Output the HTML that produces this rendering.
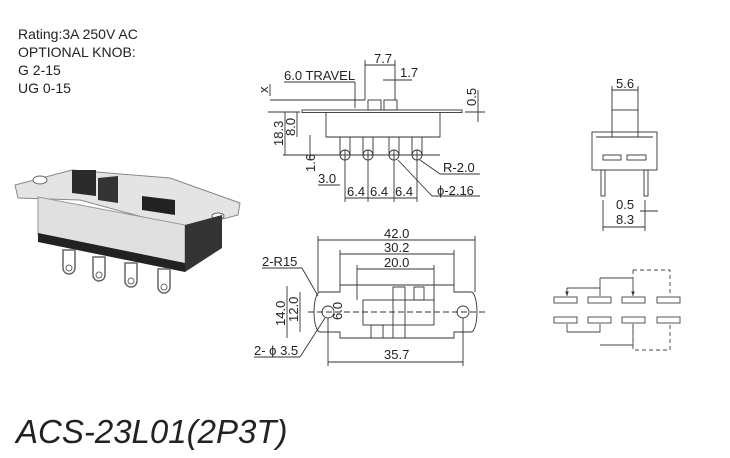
<!DOCTYPE html>
<html><head><meta charset="utf-8"><style>
html,body{margin:0;padding:0;background:#fff;width:730px;height:458px;overflow:hidden}
svg{display:block}
text{font-family:"Liberation Sans",Arial,sans-serif;fill:#222}
</style></head><body>
<svg width="730" height="458" viewBox="0 0 730 458" xmlns="http://www.w3.org/2000/svg">
<defs><marker id="a" markerWidth="6" markerHeight="6" refX="5" refY="3" orient="auto"><path d="M0,1 L5,3 L0,5z" fill="#333"/></marker></defs>
<g font-size="14">
<text x="18" y="39">Rating:3A 250V AC</text>
<text x="18" y="57">OPTIONAL KNOB:</text>
<text x="18" y="75">G 2-15</text>
<text x="18" y="93">UG 0-15</text>
</g>
<text x="16" y="443" font-size="33" font-style="italic" fill="#222">ACS-23L01(2P3T)</text>

<!-- photo -->
<g>
<path d="M15,185 L72,170 L170,178 L240,203 L238,215 L200,225 L190,230 L80,200 L18,198z" fill="#e4e4e4" stroke="#888"/>
<ellipse cx="40" cy="180" rx="7" ry="4" fill="#fff" stroke="#666"/>
<ellipse cx="218" cy="216" rx="6" ry="3" fill="#fff" stroke="#666"/>
<path d="M38,197 L185,225 L185,265 L38,235z" fill="#e0e0e0" stroke="#999"/>
<path d="M38,233 L185,263 L185,272 L38,242z" fill="#222"/>
<path d="M185,225 L222,215 L222,248 L185,272z" fill="#333"/>
<path d="M72,170 L96,170 L96,196 L72,193z" fill="#2a2a2a"/>
<path d="M98,178 L118,176 L118,203 L98,200z" fill="#333"/>
<path d="M142,196 L175,200 L175,215 L142,210z" fill="#222"/>
<g fill="#fff" stroke="#666" stroke-width="1.5">
<path d="M63,250 h12 v18 a6,6 0 0 1 -12,0z"/><path d="M93,257 h12 v18 a6,6 0 0 1 -12,0z"/>
<path d="M125,263 h12 v18 a6,6 0 0 1 -12,0z"/><path d="M158,269 h12 v18 a6,6 0 0 1 -12,0z"/>
</g>
<g fill="#fff" stroke="#666"><circle cx="69" cy="268" r="3"/><circle cx="99" cy="275" r="3"/><circle cx="131" cy="281" r="3"/><circle cx="164" cy="287" r="3"/></g>
</g>

<!-- side view -->
<g fill="none" stroke="#333" stroke-width="0.9">
<rect x="302" y="110" width="160" height="2.5"/>
<path d="M326,112 V137 H440 V112"/>
<rect x="368" y="100" width="13" height="10"/><rect x="384" y="100" width="13" height="10"/>
<g><rect x="340" y="137" width="10" height="18"/><rect x="363" y="137" width="10" height="18"/><rect x="389" y="137" width="10" height="18"/><rect x="412" y="137" width="10" height="18"/>
<circle cx="345" cy="155" r="5"/><circle cx="368" cy="155" r="5"/><circle cx="394" cy="155" r="5"/><circle cx="417" cy="155" r="5"/></g>
<line x1="283" y1="155" x2="440" y2="155"/>
<line x1="270" y1="100" x2="365" y2="100"/>
<line x1="268" y1="112" x2="300" y2="112"/>
<line x1="365" y1="60" x2="365" y2="100"/><line x1="395" y1="60" x2="395" y2="100"/>
<line x1="365" y1="65" x2="395" y2="65"/>
<line x1="383" y1="80" x2="412" y2="80"/>
<line x1="284" y1="82" x2="355" y2="82"/>
<line x1="355" y1="82" x2="355" y2="108"/>
<line x1="270" y1="84" x2="270" y2="96"/>
<line x1="285" y1="112" x2="285" y2="155"/><line x1="297" y1="112" x2="297" y2="137"/>
<line x1="310" y1="135" x2="310" y2="160"/>
<line x1="345" y1="150" x2="345" y2="202"/><line x1="368" y1="150" x2="368" y2="202"/><line x1="394" y1="150" x2="394" y2="202"/><line x1="417" y1="150" x2="417" y2="202"/>
<line x1="345" y1="198" x2="417" y2="198"/>
<line x1="318" y1="185" x2="340" y2="185"/>
<line x1="420" y1="160" x2="440" y2="174"/><line x1="440" y1="174" x2="480" y2="174"/>
<line x1="398" y1="160" x2="432" y2="196"/><line x1="432" y1="196" x2="480" y2="196"/>
<line x1="465" y1="112" x2="485" y2="112"/><line x1="478" y1="90" x2="478" y2="122"/>
</g>
<g font-size="13">
<text x="374" y="63">7.7</text><text x="400" y="77">1.7</text>
<text x="284" y="80">6.0 TRAVEL</text>
<text x="443" y="172">R-2.0</text><text x="437" y="195">ϕ-2.16</text>
<text x="347" y="196">6.4</text><text x="370" y="196">6.4</text><text x="395" y="196">6.4</text>
<text x="318" y="183">3.0</text>
<text transform="translate(268,93) rotate(-90)">x</text>
<text transform="translate(283,146) rotate(-90)">18.3</text>
<text transform="translate(295,136) rotate(-90)">8.0</text>
<text transform="translate(315,172) rotate(-90)">1.6</text>
<text transform="translate(476,106) rotate(-90)">0.5</text>
</g>

<!-- bottom view -->
<g fill="none" stroke="#333" stroke-width="0.9">
<path d="M320,292 H340 V285 H454 V292 H471 A6,20 0 0 1 471,332 H454 V338 H340 V332 H320 A6,20 0 0 1 320,292z"/>
<circle cx="328" cy="312" r="6"/><circle cx="463" cy="312" r="6"/>
<line x1="308" y1="312" x2="485" y2="312" stroke-dasharray="6,3"/>
<rect x="363" y="300" width="71" height="25"/>
<rect x="393" y="287" width="12" height="51"/><rect x="414" y="287" width="10" height="13"/>
<rect x="371" y="325" width="12" height="13"/>
<line x1="318" y1="240" x2="475" y2="240"/><line x1="318" y1="236" x2="318" y2="292"/><line x1="475" y1="236" x2="475" y2="292"/>
<line x1="340" y1="254" x2="454" y2="254"/><line x1="340" y1="250" x2="340" y2="285"/><line x1="454" y1="250" x2="454" y2="285"/>
<line x1="357" y1="269" x2="434" y2="269"/><line x1="357" y1="265" x2="357" y2="300"/><line x1="434" y1="265" x2="434" y2="300"/>
<line x1="328" y1="362" x2="463" y2="362"/><line x1="328" y1="318" x2="328" y2="366"/><line x1="463" y1="318" x2="463" y2="366"/>
<line x1="287" y1="286" x2="287" y2="338"/><line x1="300" y1="292" x2="300" y2="332"/>
<line x1="262" y1="268" x2="302" y2="268"/><line x1="302" y1="268" x2="318" y2="296"/>
<line x1="254" y1="357" x2="300" y2="357"/><line x1="300" y1="357" x2="325" y2="318"/>
</g>
<g font-size="13">
<text x="384" y="238">42.0</text><text x="384" y="252">30.2</text><text x="384" y="267">20.0</text>
<text x="384" y="359">35.7</text>
<text x="262" y="266">2-R15</text><text x="254" y="355">2- ϕ 3.5</text>
<text transform="translate(285,326) rotate(-90)">14.0</text>
<text transform="translate(298,322) rotate(-90)">12.0</text>
<text transform="translate(342,320) rotate(-90)">6.0</text>
</g>

<!-- front view -->
<g fill="none" stroke="#333" stroke-width="0.9">
<rect x="612" y="110" width="26" height="27"/>
<rect x="592" y="132" width="65" height="38"/>
<line x1="596" y1="137" x2="653" y2="137"/>
<rect x="603" y="155" width="18" height="5"/><rect x="627" y="155" width="19" height="5"/>
<rect x="601" y="170" width="4" height="26"/><rect x="644" y="170" width="4" height="26"/>
<line x1="612" y1="86" x2="612" y2="110"/><line x1="638" y1="86" x2="638" y2="110"/><line x1="612" y1="90" x2="638" y2="90"/>
<line x1="603" y1="200" x2="603" y2="231"/><line x1="645" y1="200" x2="645" y2="231"/>
<line x1="603" y1="227" x2="645" y2="227"/><line x1="640" y1="211" x2="658" y2="211"/>
</g>
<g font-size="13"><text x="616" y="88">5.6</text><text x="616" y="209">0.5</text><text x="616" y="224">8.3</text></g>

<!-- schematic -->
<g fill="none" stroke="#444" stroke-width="0.9">
<rect x="554" y="297" width="23" height="6"/><rect x="588" y="297" width="23" height="6"/><rect x="622" y="297" width="23" height="6"/><rect x="657" y="297" width="23" height="6"/>
<rect x="554" y="317" width="23" height="6"/><rect x="588" y="317" width="23" height="6"/><rect x="622" y="317" width="23" height="6"/><rect x="657" y="317" width="23" height="6"/>
<path d="M600,278 H633 M600,278 V296 M567,288 H600 M567,288 V296" marker-end="url(#a)"/>
<path d="M633,278 V296" marker-end="url(#a)"/>
<path d="M567,332 H600 V324 M567,332 V324" />
<path d="M600,345 H633 V324" />
<path d="M633,270 H670 V296 M633,270 V278 M633,324 V350 H670 V324" stroke-dasharray="4,3"/>
</g>
</svg>
</body></html>
